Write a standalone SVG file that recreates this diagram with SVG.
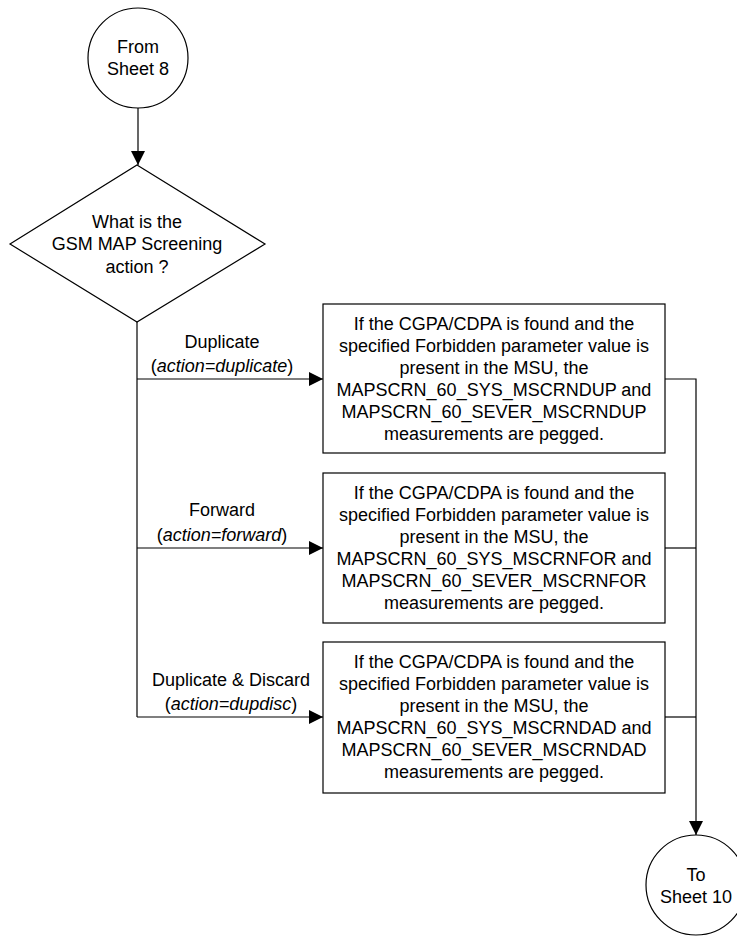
<svg xmlns="http://www.w3.org/2000/svg" width="737" height="937" viewBox="0 0 737 937">
<defs>
<marker id="arr" markerUnits="userSpaceOnUse" markerWidth="14" markerHeight="14" refX="14" refY="7" orient="auto">
<path d="M0,0 L14,7 L0,14 z" fill="#000"/>
</marker>
<style>
.s{fill:#fff;stroke:#000;stroke-width:1.2}
.c{fill:none;stroke:#000;stroke-width:1.2}
text{font-family:"Liberation Sans",Arial,sans-serif;font-size:18px;fill:#000;text-anchor:middle}
.i{font-style:italic}
</style>
</defs>
<g id="connectors">
<path class="c" d="M138,108 V165" marker-end="url(#arr)"/>
<path class="c" d="M137,322 V717"/>
<path class="c" d="M137,379 H323" marker-end="url(#arr)"/>
<path class="c" d="M137,548 H323" marker-end="url(#arr)"/>
<path class="c" d="M137,717 H323" marker-end="url(#arr)"/>
<path class="c" d="M665,379 H696 V835" marker-end="url(#arr)"/>
<path class="c" d="M665,548 H696"/>
<path class="c" d="M665,717 H696"/>
<text x="222" y="348">Duplicate</text>
<text x="222" y="372">(<tspan class="i">action=duplicate</tspan>)</text>
<text x="222" y="516">Forward</text>
<text x="222" y="541">(<tspan class="i">action=forward</tspan>)</text>
<text x="231" y="686">Duplicate &amp; Discard</text>
<text x="231" y="710">(<tspan class="i">action=dupdisc</tspan>)</text>
</g>
<g id="from-sheet-8">
<circle class="s" cx="138" cy="58" r="50"/>
<text x="138" y="53">From</text>
<text x="138" y="75">Sheet 8</text>
</g>
<g id="decision">
<path class="s" d="M137,165 L265,244 L137,322 L10,244 z"/>
<text x="137" y="228">What is the</text>
<text x="137" y="250">GSM MAP Screening</text>
<text x="137" y="273">action ?</text>
</g>
<g id="box-duplicate">
<rect class="s" x="323" y="304" width="342" height="149"/>
<text x="494" y="330">If the CGPA/CDPA is found and the</text>
<text x="494" y="352">specified Forbidden parameter value is</text>
<text x="494" y="374">present in the MSU, the</text>
<text x="494" y="396">MAPSCRN_60_SYS_MSCRNDUP and</text>
<text x="494" y="418">MAPSCRN_60_SEVER_MSCRNDUP</text>
<text x="494" y="440">measurements are pegged.</text>
</g>
<g id="box-forward">
<rect class="s" x="323" y="473" width="342" height="150"/>
<text x="494" y="499">If the CGPA/CDPA is found and the</text>
<text x="494" y="521">specified Forbidden parameter value is</text>
<text x="494" y="543">present in the MSU, the</text>
<text x="494" y="565">MAPSCRN_60_SYS_MSCRNFOR and</text>
<text x="494" y="587">MAPSCRN_60_SEVER_MSCRNFOR</text>
<text x="494" y="609">measurements are pegged.</text>
</g>
<g id="box-dupdisc">
<rect class="s" x="323" y="642" width="342" height="151"/>
<text x="494" y="668">If the CGPA/CDPA is found and the</text>
<text x="494" y="690">specified Forbidden parameter value is</text>
<text x="494" y="712">present in the MSU, the</text>
<text x="494" y="734">MAPSCRN_60_SYS_MSCRNDAD and</text>
<text x="494" y="756">MAPSCRN_60_SEVER_MSCRNDAD</text>
<text x="494" y="778">measurements are pegged.</text>
</g>
<g id="to-sheet-10">
<circle class="s" cx="696" cy="885" r="50"/>
<text x="696" y="881">To</text>
<text x="696" y="903">Sheet 10</text>
</g>
</svg>
